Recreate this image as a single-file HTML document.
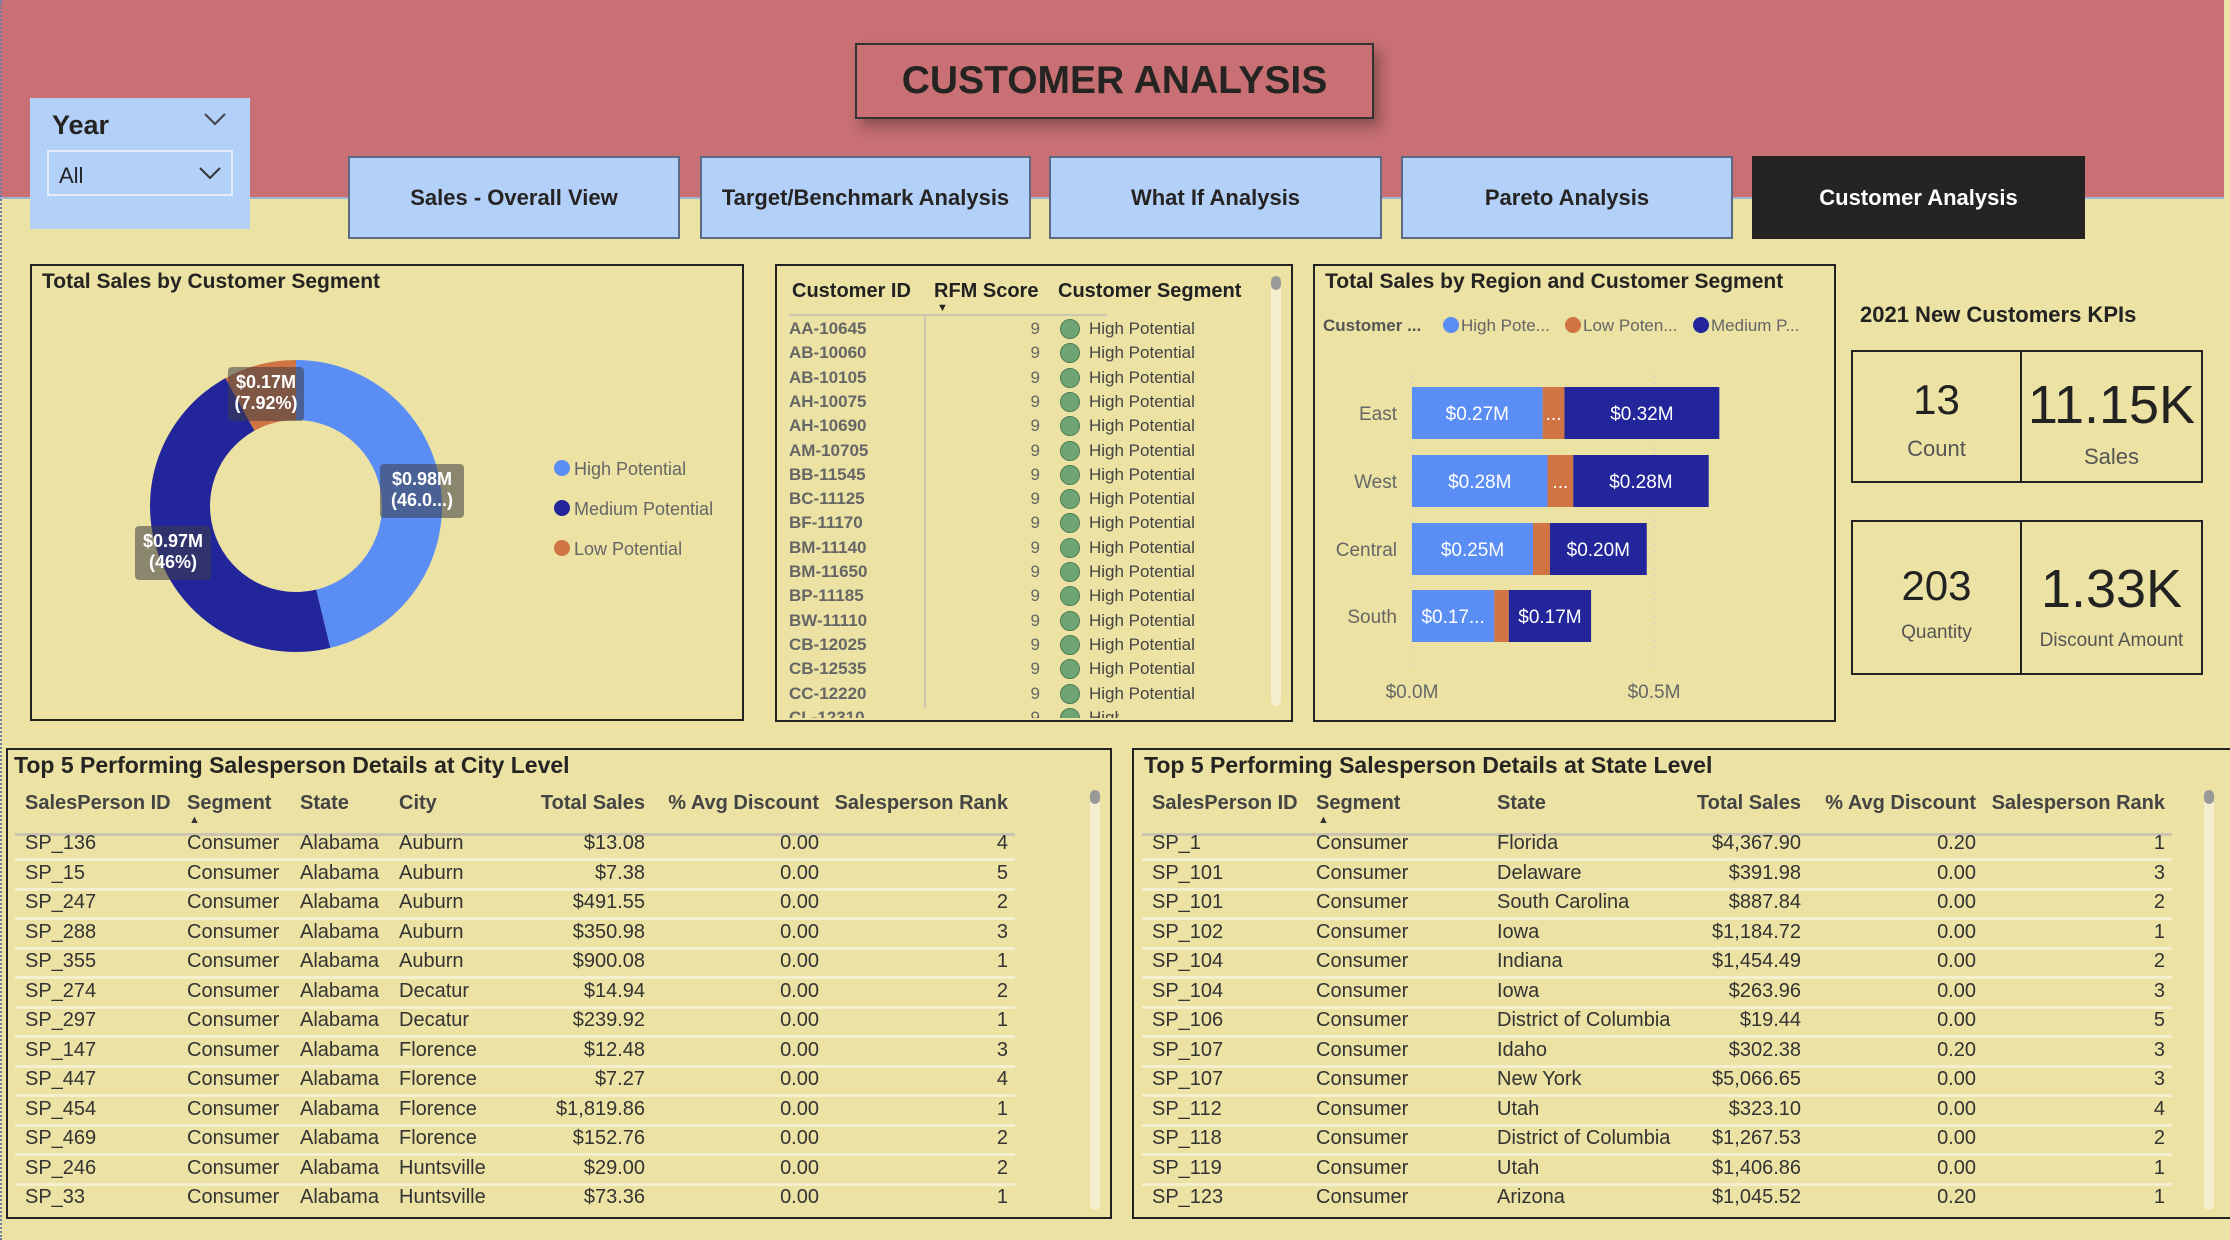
<!DOCTYPE html>
<html><head><meta charset="utf-8">
<style>
*{box-sizing:border-box;margin:0;padding:0}
body{width:2230px;height:1240px;overflow:hidden;background:#ebe2a3;font-family:"Liberation Sans",sans-serif;color:#333;position:relative}
.abs{position:absolute}
.hdr{left:0;top:0;width:2224px;height:199px;background:#c87073;border-bottom:2px solid #9fb3d9}
.title{left:855px;top:43px;width:519px;height:76px;border:2px solid #333;background:#c87073;box-shadow:6px 8px 12px rgba(0,0,0,.3);font-weight:bold;font-size:39px;color:#252423;display:flex;align-items:center;justify-content:center}
.slicer{left:30px;top:98px;width:220px;height:131px;background:#b3d0f8}
.nav{top:156px;height:83px;background:#b3d0f8;border:2px solid #5b6b85;font-weight:bold;font-size:22px;color:#252423;display:flex;align-items:center;justify-content:center}
.nav.act{background:#252423;color:#fff;border-color:#252423}
.panel{border:2px solid #222}
.ptitle{font-weight:bold;font-size:21px;color:#252423;position:absolute}
.kpi{border:2px solid #222;display:flex;flex-direction:column;align-items:center;color:#222}
.row{position:absolute;font-size:20px;color:#333;white-space:nowrap}
.sep{position:absolute;height:3px;background:#f4efcf}
.th{position:absolute;font-weight:bold;font-size:20px;color:#444;white-space:nowrap}
</style></head><body>
<div class="abs hdr"></div>
<div class="abs" style="left:0;top:0;width:3px;height:1240px;border-left:2px dotted #6b7fa8"></div>
<div class="abs title">CUSTOMER ANALYSIS</div>
<div class="abs slicer">
  <div class="abs" style="left:22px;top:12px;font-weight:bold;font-size:27px;color:#252423">Year</div>
  <svg class="abs" style="left:174px;top:14px" width="22" height="14"><polyline points="1,2 11,12 21,2" fill="none" stroke="#444" stroke-width="2"/></svg>
  <div class="abs" style="left:17px;top:52px;width:186px;height:46px;border:2px solid #e6ecf5;font-size:22px;color:#222;padding:11px 0 0 10px">All<svg class="abs" style="right:10px;top:14px" width="22" height="14"><polyline points="1,2 11,12 21,2" fill="none" stroke="#333" stroke-width="2"/></svg></div>
</div>
<div class="abs nav" style="left:348px;width:332px">Sales - Overall View</div>
<div class="abs nav" style="left:700px;width:331px">Target/Benchmark Analysis</div>
<div class="abs nav" style="left:1049px;width:333px">What If Analysis</div>
<div class="abs nav" style="left:1401px;width:332px">Pareto Analysis</div>
<div class="abs nav act" style="left:1752px;width:333px">Customer Analysis</div>

<div class="abs panel" style="left:30px;top:264px;width:714px;height:457px">
  <div class="ptitle" style="left:10px;top:4px">Total Sales by Customer Segment</div>
</div>
<svg class="abs" id="donut" style="left:0;top:0" width="2230" height="1240"></svg>

<div class="abs panel" style="left:775px;top:264px;width:518px;height:458px" id="ctab">
  <div class="th" style="left:15px;top:14px;color:#222">Customer ID</div>
  <div class="th" style="left:157px;top:14px;color:#222">RFM Score</div>
  <div class="abs" style="left:160px;top:36px;font-size:11px;color:#222">&#9660;</div>
  <div class="th" style="left:281px;top:14px;color:#222">Customer Segment</div>
  <div class="abs" style="left:12px;top:48px;width:318px;height:2px;background:#c9c5b0"></div>
  <div class="abs" style="left:147px;top:50px;width:2px;height:392px;background:#c9c5b0"></div>
  <div class="abs" style="left:494px;top:10px;width:10px;height:430px;border-radius:5px;background:#f4efcf"><div style="width:10px;height:14px;border-radius:5px;background:#999"></div></div>
</div>

<div class="abs panel" style="left:1313px;top:264px;width:523px;height:458px">
  <div class="ptitle" style="left:10px;top:4px">Total Sales by Region and Customer Segment</div>
</div>
<svg class="abs" id="bars" style="left:0;top:0" width="2230" height="1240"></svg>

<div class="abs" style="left:1860px;top:302px;font-weight:bold;font-size:22px;color:#222">2021 New Customers KPIs</div>
<div class="abs kpi" style="left:1851px;top:350px;width:171px;height:133px"><div style="font-size:42px;margin-top:24px">13</div><div style="font-size:22px;color:#555;margin-top:12px">Count</div></div>
<div class="abs kpi" style="left:2020px;top:350px;width:183px;height:133px"><div style="font-size:54px;margin-top:22px">11.15K</div><div style="font-size:22px;color:#555;margin-top:8px">Sales</div></div>
<div class="abs kpi" style="left:1851px;top:520px;width:171px;height:155px"><div style="font-size:42px;margin-top:40px">203</div><div style="font-size:19px;color:#555;margin-top:12px">Quantity</div></div>
<div class="abs kpi" style="left:2020px;top:520px;width:183px;height:155px"><div style="font-size:54px;margin-top:36px">1.33K</div><div style="font-size:19px;color:#555;margin-top:10px">Discount Amount</div></div>

<div class="abs panel" style="left:6px;top:748px;width:1106px;height:471px" id="cityp">
  <div class="ptitle" style="left:6px;top:2px;font-size:23px">Top 5 Performing Salesperson Details at City Level</div>
  <div class="abs" style="left:1082px;top:40px;width:10px;height:420px;border-radius:5px;background:#f4efcf"><div style="width:10px;height:14px;border-radius:5px;background:#999"></div></div>
</div>
<div class="abs panel" style="left:1132px;top:748px;width:1098px;height:471px;border-right:none" id="statep">
  <div class="ptitle" style="left:10px;top:2px;font-size:23px">Top 5 Performing Salesperson Details at State Level</div>
  <div class="abs" style="left:1070px;top:40px;width:10px;height:420px;border-radius:5px;background:#f4efcf"><div style="width:10px;height:14px;border-radius:5px;background:#999"></div></div>
</div>

<script>
const segNames=["High Potential","Medium Potential","Low Potential"];
const segValues=[0.98,0.97,0.17];
const segLabels=["$0.98M\n(46.0...)","$0.97M\n(46%)","$0.17M\n(7.92%)"];
const segColors=["#5a8ef5","#23269a","#d07443"];

const regions=["East","West","Central","South"];
const highVals=[0.27,0.28,0.25,0.17];
const lowVals=[0.045,0.053,0.035,0.03];
const medVals=[0.32,0.28,0.20,0.17];
const highLbl=["$0.27M","$0.28M","$0.25M","$0.17..."];
const lowLbl=["...","...","",""];
const medLbl=["$0.32M","$0.28M","$0.20M","$0.17M"];
const xTicks=[0,0.5];
const xTickLbl=["$0.0M","$0.5M"];

const custIds=["AA-10645","AB-10060","AB-10105","AH-10075","AH-10690","AM-10705","BB-11545","BC-11125","BF-11170","BM-11140","BM-11650","BP-11185","BW-11110","CB-12025","CB-12535","CC-12220","CL-12310"];
const custRfm=[9,9,9,9,9,9,9,9,9,9,9,9,9,9,9,9,9];
const custSeg=custIds.map(()=> "High Potential");

const cityIds=["SP_136","SP_15","SP_247","SP_288","SP_355","SP_274","SP_297","SP_147","SP_447","SP_454","SP_469","SP_246","SP_33"];
const cityCity=["Auburn","Auburn","Auburn","Auburn","Auburn","Decatur","Decatur","Florence","Florence","Florence","Florence","Huntsville","Huntsville"];
const citySales=["$13.08","$7.38","$491.55","$350.98","$900.08","$14.94","$239.92","$12.48","$7.27","$1,819.86","$152.76","$29.00","$73.36"];
const cityDisc=["0.00","0.00","0.00","0.00","0.00","0.00","0.00","0.00","0.00","0.00","0.00","0.00","0.00"];
const cityRank=[4,5,2,3,1,2,1,3,4,1,2,2,1];

const stIds=["SP_1","SP_101","SP_101","SP_102","SP_104","SP_104","SP_106","SP_107","SP_107","SP_112","SP_118","SP_119","SP_123"];
const stState=["Florida","Delaware","South Carolina","Iowa","Indiana","Iowa","District of Columbia","Idaho","New York","Utah","District of Columbia","Utah","Arizona"];
const stSales=["$4,367.90","$391.98","$887.84","$1,184.72","$1,454.49","$263.96","$19.44","$302.38","$5,066.65","$323.10","$1,267.53","$1,406.86","$1,045.52"];
const stDisc=["0.20","0.00","0.00","0.00","0.00","0.00","0.00","0.20","0.00","0.00","0.00","0.00","0.20"];
const stRank=[1,3,2,1,2,3,5,3,3,4,2,1,1];

const NS="http://www.w3.org/2000/svg";
function sv(tag,attrs,parent){const e=document.createElementNS(NS,tag);for(const k in attrs)e.setAttribute(k,attrs[k]);parent.appendChild(e);return e;}

(function(){
  const svg=document.getElementById('donut');
  const cx=296,cy=506,R=146,r=86;
  const total=segValues.reduce((a,b)=>a+b,0);
  let a0=0;
  const pt=(ang,rad)=>[cx+rad*Math.sin(ang),cy-rad*Math.cos(ang)];
  segValues.forEach((v,i)=>{
    const a1=a0+v/total*2*Math.PI;
    const [x0,y0]=pt(a0,R),[x1,y1]=pt(a1,R),[x2,y2]=pt(a1,r),[x3,y3]=pt(a0,r);
    const lg=(a1-a0)>Math.PI?1:0;
    const p=sv('path',{d:`M${x0},${y0}A${R},${R} 0 ${lg} 1 ${x1},${y1}L${x2},${y2}A${r},${r} 0 ${lg} 0 ${x3},${y3}Z`,fill:segColors[i]},svg);
    
    
    a0=a1;
  });
  const lblPos=[[422,490],[173,552],[266,393]];
  segLabels.forEach((t,i)=>{
    const [x,y]=lblPos[i];const lines=t.split("\n");
    const w=i==0?84:76;
    const g=sv('g',{},svg);
    
    
    sv('rect',{x:x-w/2,y:y-26,width:w,height:54,rx:4,fill:'rgba(60,60,70,0.55)'},g);
    lines.forEach((l,j)=>{const tx=sv('text',{x:x,y:y-5+j*21,'text-anchor':'middle','font-size':18,'font-weight':'bold',fill:'#fff','font-family':'Liberation Sans'},g);tx.textContent=l;});
  });
  segNames.forEach((n,i)=>{
    const y=468+i*40;
    const g=sv('g',{},svg);
    
    
    sv('circle',{cx:562,cy:y,r:8,fill:segColors[i]},g);
    const t=sv('text',{x:574,y:y+7,'font-size':18,fill:'#666','font-family':'Liberation Sans'},g);t.textContent=n;
  });
})();

(function(){
  const svg=document.getElementById('bars');
  const x0=1412,pxPer=484;
  const X=v=>x0+v*pxPer;
  const yc=[413,481,549,616],bh=52;
  xTicks.forEach((t,i)=>{
    const l=sv('line',{x1:X(t),x2:X(t),y1:370,y2:670,stroke:'#ccc','stroke-dasharray':'2,4'},svg);
    
    
    const tx=sv('text',{x:X(t),y:698,'text-anchor':'middle','font-size':19,fill:'#666','font-family':'Liberation Sans'},svg);
    tx.textContent=xTickLbl[i];
    
    
  });
  const lg=sv('text',{x:1323,y:331,'font-size':17,'font-weight':'bold',fill:'#555','font-family':'Liberation Sans'},svg);lg.textContent="Customer ...";
  
  
  const legItems=[["High Pote...","#5a8ef5",1451],["Low Poten...","#d07443",1573],["Medium P...","#23269a",1701]];
  legItems.forEach(([t,c,x])=>{
    const g=sv('g',{},svg);
    
    
    sv('circle',{cx:x,cy:325,r:8,fill:c},g);
    const tx=sv('text',{x:x+10,y:331,'font-size':17,fill:'#666','font-family':'Liberation Sans'},g);tx.textContent=t;
  });
  regions.forEach((rg,i)=>{
    const y=yc[i]-bh/2;
    const t=sv('text',{x:1397,y:yc[i]+7,'text-anchor':'end','font-size':19,fill:'#666','font-family':'Liberation Sans'},svg);t.textContent=rg;
    
    
    const segs=[[0,highVals[i],'#5a8ef5',highLbl[i]],[highVals[i],lowVals[i],'#d07443',lowLbl[i]],[highVals[i]+lowVals[i],medVals[i],'#23269a',medLbl[i]]];
    segs.forEach(([s,v,c,l],k)=>{
      const rc=sv('rect',{x:X(s),y:y,width:v*pxPer,height:bh,fill:c},svg);
      
      
      if(l){const tx=sv('text',{x:X(s+v/2),y:yc[i]+7,'text-anchor':'middle','font-size':19,fill:'#fff','font-family':'Liberation Sans'},svg);tx.textContent=l;}
    });
  });
})();

(function(){
  const p=document.getElementById('ctab');
  custIds.forEach((id,i)=>{
    const y=53+i*24.3;
    const d=document.createElement('div');
    d.className='row';d.style.left='12px';d.style.top=y+'px';d.style.width='330px';d.style.height='22px';d.style.fontSize='17px';
    
    
    d.innerHTML=`<span style="position:absolute;left:0;font-weight:bold;color:#666">${id}</span><span style="position:absolute;right:79px;color:#666">${custRfm[i]}</span><span style="position:absolute;left:271px;top:0;width:20px;height:20px;border-radius:50%;background:#6fa574;border:1px solid #4f7c53"></span><span style="position:absolute;left:300px;color:#444">${custSeg[i]}</span>`;
    if(i==custIds.length-1){d.style.height='10px';d.style.overflow='hidden';}
    p.appendChild(d);
  });
})();

function buildTable(p,cols,rows,sepW){
  cols.forEach(c=>{
    const h=document.createElement('div');h.className='th';
    if(c.r){h.style.right=(p.offsetWidth-c.x-4)+'px';}else h.style.left=c.x+'px';
    h.style.top='42px';h.textContent=c.h;
    
    
    p.appendChild(h);
  });
  const ar=document.createElement('div');ar.className='abs';ar.style.left=(cols[1].x+2)+'px';ar.style.top='64px';ar.style.fontSize='11px';ar.textContent='▲';p.appendChild(ar);
  const hl=document.createElement('div');hl.className='sep';hl.style.left=cols[0].x-10+'px';hl.style.width=sepW+'px';hl.style.top='83px';hl.style.background='#c9c5b0';p.appendChild(hl);
  rows.forEach((r,i)=>{
    const y=82+i*29.5;
    cols.forEach((c,k)=>{
      const d=document.createElement('div');d.className='row';
      d.style.top=y+'px';
      if(c.r){d.style.right=(p.offsetWidth-c.x-4)+'px';}else d.style.left=c.x+'px';
      d.textContent=r[k];
      
      
      p.appendChild(d);
    });
    if(i<rows.length-1){const s=document.createElement('div');s.className='sep';s.style.left=cols[0].x-10+'px';s.style.width=sepW+'px';s.style.top=(y+26)+'px';p.appendChild(s);}
  });
}
const cityRows=cityIds.map((id,i)=>[id,"Consumer","Alabama",cityCity[i],citySales[i],cityDisc[i],cityRank[i]]);
buildTable(document.getElementById('cityp'),[{x:17,h:"SalesPerson ID"},{x:179,h:"Segment"},{x:292,h:"State"},{x:391,h:"City"},{x:637,h:"Total Sales",r:1},{x:811,h:"% Avg Discount",r:1},{x:1000,h:"Salesperson Rank",r:1}],cityRows,1000);
const stRows=stIds.map((id,i)=>[id,"Consumer",stState[i],stSales[i],stDisc[i],stRank[i]]);
buildTable(document.getElementById('statep'),[{x:18,h:"SalesPerson ID"},{x:182,h:"Segment"},{x:363,h:"State"},{x:665,h:"Total Sales",r:1},{x:840,h:"% Avg Discount",r:1},{x:1029,h:"Salesperson Rank",r:1}],stRows,1030);
</script>
</body></html>
